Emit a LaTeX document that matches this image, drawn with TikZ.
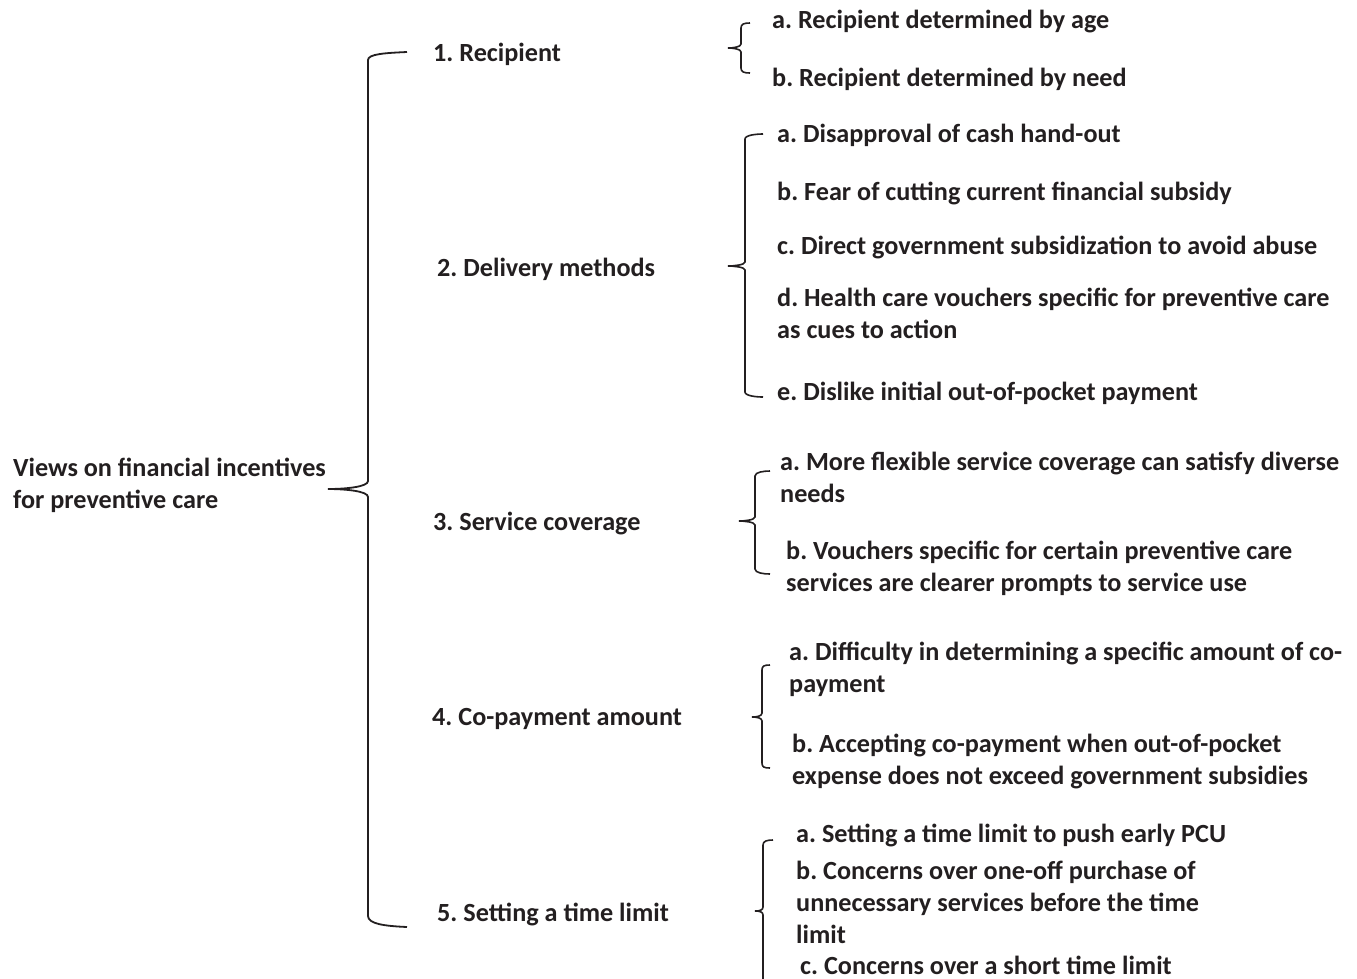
\documentclass[tikz,border=0pt]{standalone}
\usepackage{fontspec}
\setmainfont{Carlito}
\definecolor{ink}{HTML}{231F20}
\newcommand\sbrace[6]{%
  \draw[br] (#6,#2) .. controls +(-6,0) and +(0,-4) .. (#1,{#2+5})
    -- (#1,{#3-4}) .. controls +(0,3) and +(5,0) .. (#5,#3)
    .. controls +(5,0) and +(0,-3) .. (#1,{#3+4})
    -- (#1,{#4-5}) .. controls +(0,4) and +(-6,0) .. (#6,#4);}
\begin{document}
\frenchspacing
\begin{tikzpicture}[x=1pt,y=-1pt,
  txt/.style={anchor=base west, inner sep=0pt, align=left, text=ink,
    font=\fontsize{26.2}{32}\selectfont\bfseries\frenchspacing},
  br/.style={draw=ink, line width=1.6pt}]
\clip (0,0) rectangle (1357,978);
\fill[white] (0,0) rectangle (1357,978);
% root and level 1 (base = baseline of last line)
\node[txt] (root) at (13,508) {Views on financial incentives\\for preventive care};
\node[txt] (n1) at (433,61) {1. Recipient};
\node[txt] (n2) at (437,276) {2. Delivery methods};
\node[txt] (n3) at (433,530) {3. Service coverage};
\node[txt] (n4) at (432,725) {4. Co-payment amount};
\node[txt] (n5) at (437,921) {5. Setting a time limit};
% level 2
\node[txt] (n1a) at (772,28) {a. Recipient determined by age};
\node[txt] (n1b) at (772,86) {b. Recipient determined by need};
\node[txt] (n2a) at (777,142) {a. Disapproval of cash hand-out};
\node[txt] (n2b) at (777,200) {b. Fear of cutting current financial subsidy};
\node[txt] (n2c) at (777,254) {c. Direct government subsidization to avoid abuse};
\node[txt] (n2d) at (777,338) {d. Health care vouchers specific for preventive care\\as cues to action};
\node[txt] (n2e) at (777,400) {e. Dislike initial out-of-pocket payment};
\node[txt] (n3a) at (780,502) {a. More flexible service coverage can satisfy diverse\\needs};
\node[txt] (n3b) at (786,591) {b. Vouchers specific for certain preventive care\\services are clearer prompts to service use};
\node[txt] (n4a) at (789,692) {a. Difficulty in determining a specific amount of co-\\payment};
\node[txt] (n4b) at (792,784) {b. Accepting co-payment when out-of-pocket\\expense does not exceed government subsidies};
\node[txt] (n5a) at (796,842) {a. Setting a time limit to push early PCU};
\node[txt] (n5b) at (796,943) {b. Concerns over one-off purchase of\\unnecessary services before the time\\limit};
\node[txt] (n5c) at (800,974) {c. Concerns over a short time limit};
% main brace
\draw[br, line width=1.8pt] (407,52) .. controls (385,53) and (368,54) .. (368,60)
  -- (368,481) .. controls (368,487) and (345,489) .. (328,489)
  .. controls (345,489) and (368,491) .. (368,497)
  -- (368,916) .. controls (368,924) and (385,926) .. (407,927);
% sub braces: x, top, tip y, bottom, tip x, end x
\sbrace{741}{23}{48}{73}{728}{750}
\sbrace{745}{134}{266}{397}{728}{763}
\sbrace{755}{471}{521}{574}{739}{770}
\sbrace{762}{665}{717}{768}{752}{770}
\sbrace{763}{840}{911}{1000}{755}{773}
\end{tikzpicture}
\end{document}
